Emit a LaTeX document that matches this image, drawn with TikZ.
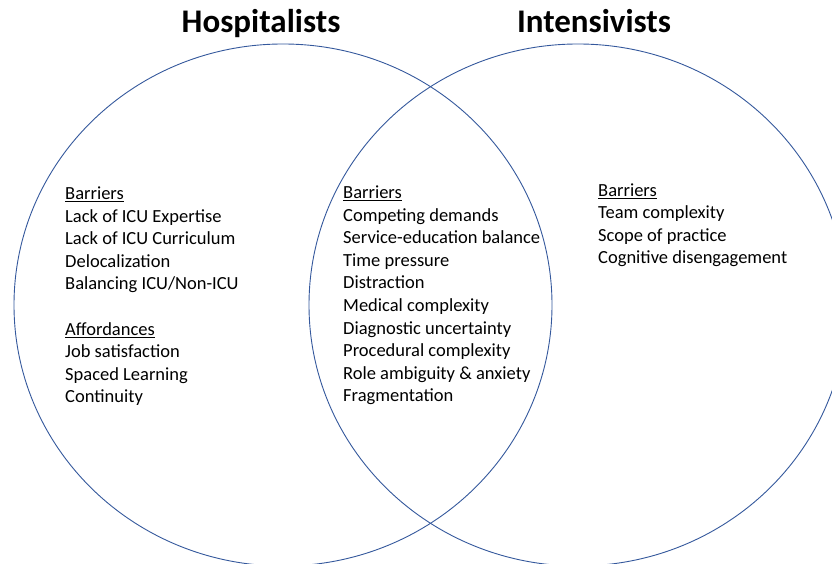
\documentclass[tikz,border=0pt]{standalone}
\usepackage{fontspec}
\setmainfont{Carlito}
\usepackage{tikz}
\definecolor{vennblue}{RGB}{52,88,156}

\begin{document}
\begin{tikzpicture}[x=1pt,y=1pt,
    circ/.style={draw=vennblue,line width=0.9pt},
    title/.style={anchor=base,inner sep=0pt,font=\fontsize{33}{40}\selectfont\bfseries},
    items/.style={anchor=base west,inner sep=0pt,align=left,font=\fontsize{18.5}{22.6}\selectfont}]
\useasboundingbox (0,0) rectangle (832,564);

% Circles
\draw[circ] (283,259) ellipse [x radius=269, y radius=261];
\draw[circ] (578,259) ellipse [x radius=269, y radius=261];

% Titles
\node[title] (hosp) at (261,531) {Hospitalists};
\node[title] (inten) at (594,531) {Intensivists};

% Lists (placed by the baseline of their last line)
\node[items] (left) at (65,161) {\underline{Barriers}\\
    Lack of ICU Expertise\\
    Lack of ICU Curriculum\\
    Delocalization\\
    Balancing ICU/Non-ICU\\[22.6pt]
    \underline{Affordances}\\
    Job satisfaction\\
    Spaced Learning\\
    Continuity};
\node[items] (mid) at (343,162) {\underline{Barriers}\\
    Competing demands\\
    Service-education balance\\
    Time pressure\\
    Distraction\\
    Medical complexity\\
    Diagnostic uncertainty\\
    Procedural complexity\\
    Role ambiguity \& anxiety\\
    Fragmentation};
\node[items] (right) at (598,300) {\underline{Barriers}\\
    Team complexity\\
    Scope of practice\\
    Cognitive disengagement};
\end{tikzpicture}
\end{document}
